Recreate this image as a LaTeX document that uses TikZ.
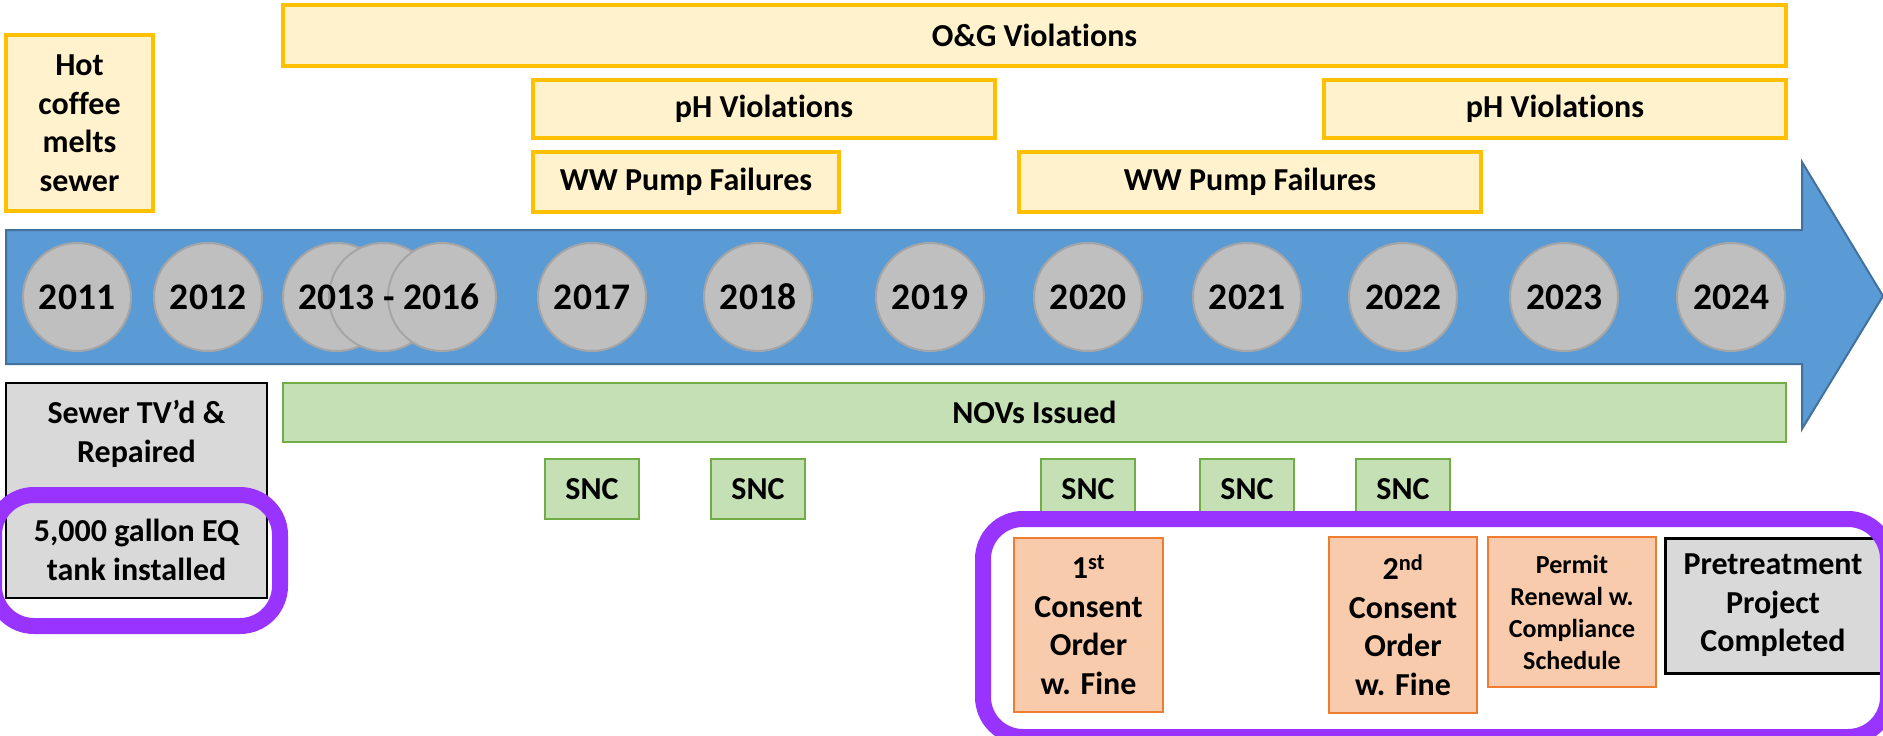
\documentclass[tikz,border=0pt]{standalone}
\usepackage{fontspec}
\setmainfont{Carlito}[Ligatures={TeX,NoCommon}]
\usetikzlibrary{positioning,shapes,arrows,fit,calc}

\definecolor{viofill}{HTML}{FFF2CC}
\definecolor{violine}{HTML}{FFC000}
\definecolor{novfill}{HTML}{C5E0B4}
\definecolor{novline}{HTML}{70AD47}
\definecolor{orderfill}{HTML}{F8CBAD}
\definecolor{orderline}{HTML}{ED7D31}
\definecolor{donefill}{HTML}{D9D9D9}
\definecolor{axisfill}{HTML}{5B9BD5}
\definecolor{axisline}{HTML}{41719C}
\definecolor{ballfill}{HTML}{BFBFBF}
\definecolor{ballline}{HTML}{A5A5A5}
\definecolor{markpurple}{HTML}{9933FF}

\begin{document}
\begin{tikzpicture}[x=1pt,y=-1pt,
        txt/.style={font=\fontsize{32}{38.5}\selectfont\bfseries,align=center,inner sep=0pt},
        violation/.style={txt,rectangle,draw=violine,fill=viofill,line width=3.5pt},
        nov/.style={txt,rectangle,draw=novline,fill=novfill,line width=2.5pt},
        order/.style={txt,rectangle,draw=orderline,fill=orderfill,line width=2.5pt},
        done/.style={txt,rectangle,draw=black,fill=donefill,line width=2pt},
        yearfont/.style={font=\fontsize{37.5}{44}\selectfont\bfseries},
        yearball/.style={yearfont,circle,draw=ballline,fill=ballfill,line width=2pt,minimum size=108pt,inner sep=0pt},
        highlight/.style={draw=markpurple,line width=16pt,rounded corners=40pt}]
    \useasboundingbox (0,0) rectangle (1883,736);

    % violations above the time line
    \node[violation,minimum width=147pt,minimum height=176pt] (coffee) at (79.5,123) {Hot\\coffee\\melts\\sewer};
    \node[violation,minimum width=1503pt,minimum height=61pt] (og) at (1034.5,35.5) {O\&G Violations};
    \node[violation,minimum width=462pt,minimum height=58pt] (ph1) at (764,109) {pH Violations};
    \node[violation,minimum width=462pt,minimum height=58pt] (ph2) at (1555,109) {pH Violations};
    \node[violation,minimum width=306pt,minimum height=60pt] (ww1) at (686,182) {WW Pump Failures};
    \node[violation,minimum width=462pt,minimum height=60pt] (ww2) at (1250,182) {WW Pump Failures};

    % time line
    \draw[fill=axisfill,draw=axisline,line width=2pt] (6,230) -- (1802,230) -- (1802,162) -- (1883,296)
        -- (1802,429) -- (1802,364) -- (6,364) -- cycle;
    \node[yearball] (y2011) at (77,297) {2011};
    \node[yearball] (y2012) at (208,297) {2012};
    \node[yearball] (y2013) at (337,297) {};
    \node[yearball] (y2014) at (383,297) {};
    \node[yearball] (y2016) at (442,297) {};
    \node[yearfont,inner sep=0pt] (span) at (389,297) {2013 - 2016};
    \node[yearball] (y2017) at (592,297) {2017};
    \node[yearball] (y2018) at (758,297) {2018};
    \node[yearball] (y2019) at (930,297) {2019};
    \node[yearball] (y2020) at (1088,297) {2020};
    \node[yearball] (y2021) at (1247,297) {2021};
    \node[yearball] (y2022) at (1403,297) {2022};
    \node[yearball] (y2023) at (1564,297) {2023};
    \node[yearball] (y2024) at (1731,297) {2024};

    % enforcement below the time line
    \node[done,minimum width=261pt,minimum height=215pt] (sewer) at (136.5,490.5) {Sewer TV'd \&\\Repaired\\[41pt]5,000 gallon EQ\\tank installed};
    \node[nov,minimum width=1503pt,minimum height=59pt] (novs) at (1034.5,412.5) {NOVs Issued};
    \foreach \yr/\x in {2017/592,2018/758,2020/1088,2021/1247,2022/1403}
        \node[nov,minimum width=94pt,minimum height=60pt] (snc\yr) at (\x,489) {SNC};
    \node[order,minimum width=149pt,minimum height=174pt] (order1) at (1088.5,625) {1\textsuperscript{st}\\Consent\\Order\\w. Fine};
    \node[order,minimum width=148pt,minimum height=176pt] (order2) at (1403,625) {2\textsuperscript{nd}\\Consent\\Order\\w. Fine};
    \node[order,minimum width=168pt,minimum height=150pt,font=\fontsize{26}{32}\selectfont\bfseries] (permit) at (1572,612) {Permit\\Renewal w.\\Compliance\\Schedule};
    \node[done,line width=3pt,minimum width=216pt,minimum height=135pt] (pretreat) at (1773,605.5) {Pretreatment\\Project\\Completed};

    % highlights
    \draw[highlight] (-6,495) rectangle (280,626);
    \draw[highlight] (983,519) rectangle (1888,737);
\end{tikzpicture}
\end{document}
